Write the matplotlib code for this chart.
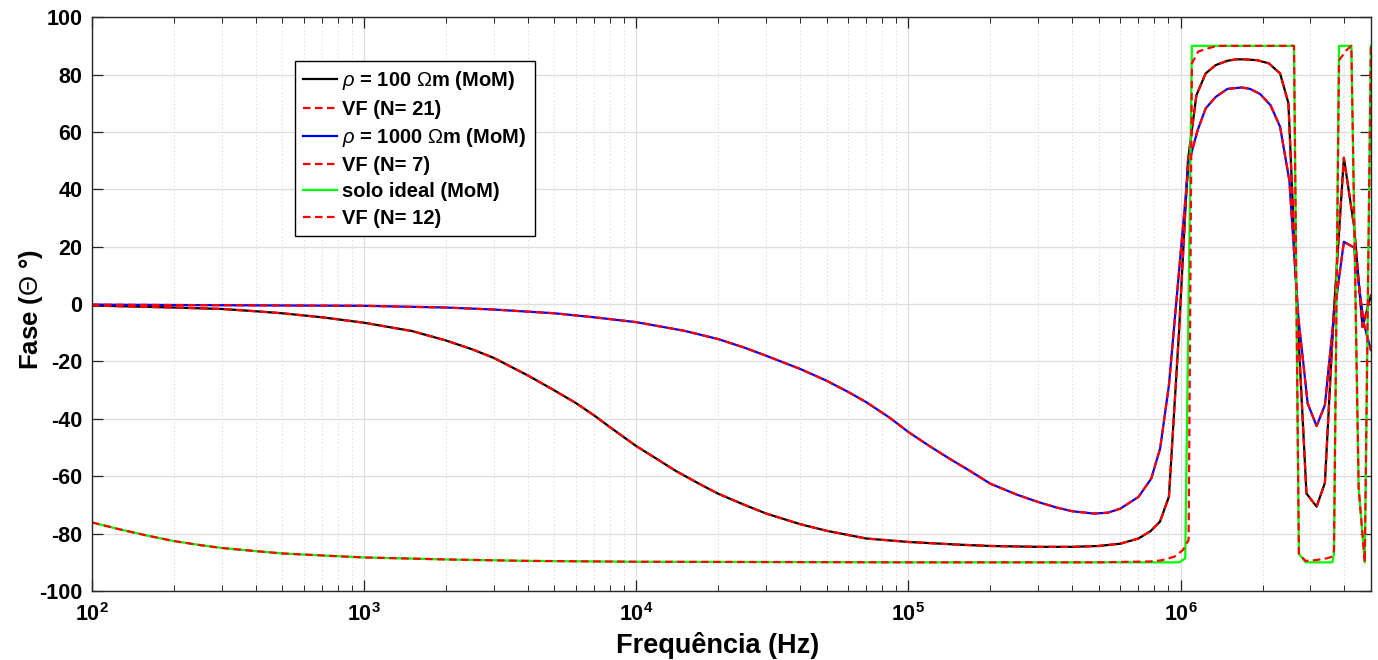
import math
import matplotlib
matplotlib.use("Agg")
import matplotlib.pyplot as plt
import matplotlib.ticker as mtick

# frequency (Hz) and phase (degrees)
freq_100 = [1.0e2, 2.0e2, 3.0e2, 4.0e2, 5.0e2, 7.0e2, 1.0e3, 1.5e3, 2.0e3, 2.5e3,
            3.0e3, 4.0e3, 5.0e3, 6.0e3, 7.0e3, 8.0e3, 1.0e4, 1.2e4, 1.4e4, 1.7e4,
            2.0e4, 2.5e4, 3.0e4, 4.0e4, 5.0e4, 7.0e4, 1.0e5, 1.5e5, 2.0e5, 3.0e5,
            4.0e5, 5.0e5, 6.0e5, 7.0e5, 7.76e5, 8.4e5, 9.06e5,
            9.86e5, 1.064e6, 1.143e6, 1.236e6, 1.346e6, 1.486e6, 1.60e6, 1.71e6,
            1.91e6, 2.11e6, 2.32e6, 2.49e6, 2.69e6, 2.90e6, 3.16e6, 3.39e6, 3.65e6,
            3.98e6, 4.34e6, 4.66e6, 5.0e6]
phase_100 = [-0.5, -1.2, -1.7, -2.5, -3.2, -4.6, -6.5, -9.4, -12.7, -15.8,
             -18.8, -24.9, -30.1, -34.5, -38.8, -42.9, -49.5, -54.2, -58.2, -62.6,
             -66.1, -70.0, -73.0, -76.7, -79.0, -81.7, -82.9, -83.8, -84.3, -84.6,
             -84.6, -84.3, -83.5, -81.7, -79.1, -75.8, -67.1,
             -10.0, 50.0, 72.8, 80.4, 83.3, 84.8, 85.3, 85.3, 85.0, 83.9, 80.4,
             70.0, -5.0, -66.0, -70.6, -62.3, -4.0, 51.0, 27.0, -8.0, 3.0]

freq_1000 = [1.0e2, 3.16e2, 1.0e3, 2.0e3, 3.0e3, 5.0e3, 7.0e3, 1.0e4, 1.5e4, 2.0e4,
             2.5e4, 3.0e4, 4.0e4, 5.0e4, 6.0e4, 7.0e4, 8.5e4, 1.0e5, 1.2e5, 1.4e5,
             1.7e5, 2.0e5, 2.5e5, 3.0e5, 3.5e5, 4.0e5, 4.8e5, 5.4e5, 6.0e5,
             7.0e5, 7.8e5, 8.41e5, 9.06e5, 1.07e6, 1.155e6, 1.236e6, 1.346e6, 1.486e6,
             1.68e6, 1.80e6, 1.96e6, 2.14e6, 2.32e6, 2.51e6, 2.71e6, 2.93e6, 3.16e6,
             3.39e6, 3.65e6, 3.98e6, 4.34e6, 4.71e6, 5.0e6]
phase_1000 = [-0.2, -0.4, -0.6, -1.2, -1.9, -3.2, -4.6, -6.3, -9.3, -12.2,
              -15.2, -18.0, -22.6, -26.7, -30.6, -34.2, -39.5, -44.6, -49.6, -53.6,
              -58.4, -62.6, -66.4, -69.0, -70.9, -72.2, -73.0, -72.7, -71.3,
              -67.2, -60.8, -50.3, -28.2, 49.0, 60.6, 68.2, 72.2, 75.0,
              75.5, 75.0, 73.2, 69.3, 61.8, 43.0, -5.0, -34.6, -42.5,
              -35.2, -5.0, 21.7, 19.7, -6.7, -16.0]

freq_ideal = [1.0e2, 1.25e2, 1.58e2, 2.0e2, 2.5e2, 3.0e2, 4.0e2, 5.0e2, 7.0e2, 1.0e3,
              1.5e3, 2.0e3, 4.0e3, 1.0e4, 1.0e5, 6.3e5, 9.9e5, 1.04e6, 1.10e6,
              2.61e6, 2.72e6, 2.88e6, 3.61e6, 3.66e6, 3.82e6, 4.24e6, 4.51e6,
              4.75e6, 5.0e6]
phase_ideal = [-76.1, -78.4, -80.6, -82.6, -84.0, -85.0, -86.1, -86.9, -87.6, -88.3,
               -88.7, -89.0, -89.5, -89.8, -90.0, -90.0, -90.0, -88.6, 90.0,
               90.0, -87.0, -90.0, -90.0, -87.0, 90.0, 90.0, -64.0,
               -90.0, 90.0]

freq_vf12 = [1.0e2, 1.25e2, 1.58e2, 2.0e2, 2.5e2, 3.0e2, 4.0e2, 5.0e2, 7.0e2, 1.0e3,
             1.5e3, 2.0e3, 4.0e3, 1.0e4, 1.0e5, 5.0e5, 7.76e5, 8.5e5, 9.5e5, 1.02e6,
             1.07e6, 1.10e6, 1.16e6, 1.26e6, 1.36e6, 2.61e6, 2.72e6, 2.88e6, 3.15e6,
             3.45e6, 3.61e6, 3.66e6, 3.82e6, 4.07e6, 4.24e6, 4.51e6, 4.75e6, 5.0e6]
phase_vf12 = [-76.1, -78.4, -80.6, -82.6, -84.0, -85.0, -86.1, -86.9, -87.6, -88.3,
              -88.7, -89.0, -89.5, -89.8, -90.0, -90.0, -89.7, -89.3, -88.0, -85.7,
              -82.2, 83.9, 88.0, 89.1, 90.0, 90.0, -87.0, -89.5, -89.2,
              -88.6, -88.0, -86.0, 85.0, 88.5, 90.0, -64.0, -90.0, 90.0]

# vector fitting curves for the two soils lie on top of the MoM results
freq_vf21, phase_vf21 = freq_100, phase_100
freq_vf7, phase_vf7 = freq_1000, phase_1000

labels = [r'$\rho$ = 100 $\Omega$m (MoM)', 'VF (N= 21)',
          r'$\rho$ = 1000 $\Omega$m (MoM)', 'VF (N= 7)',
          'solo ideal (MoM)', 'VF (N= 12)']
yticks = list(range(-100, 101, 20))

plt.rcParams['font.family'] = ['Liberation Sans', 'DejaVu Sans']
plt.rcParams['font.weight'] = 'bold'
plt.rcParams['axes.unicode_minus'] = False
plt.rcParams['mathtext.fontset'] = 'custom'
plt.rcParams['mathtext.rm'] = 'Liberation Sans:weight=normal'
plt.rcParams['mathtext.it'] = 'Liberation Sans:style=italic:weight=normal'
plt.rcParams['mathtext.bf'] = 'Liberation Sans:weight=bold'

axc = '#262626'
fig = plt.figure(figsize=(13.78, 6.6), dpi=100)
ax = fig.add_axes([0.0668, 0.1045, 0.928, 0.8695])

lw = 1.6
dash = (0, (3.4, 2.0))
ax.plot(freq_100, phase_100, color='black', lw=lw, label=labels[0])
ax.plot(freq_vf21, phase_vf21, color='red', lw=lw, ls=dash, label=labels[1])
ax.plot(freq_1000, phase_1000, color='blue', lw=lw, label=labels[2])
ax.plot(freq_vf7, phase_vf7, color='red', lw=lw, ls=dash, label=labels[3])
ax.plot(freq_ideal, phase_ideal, color='#00ff00', lw=lw, label=labels[4])
ax.plot(freq_vf12, phase_vf12, color='red', lw=lw, ls=dash, label=labels[5])

ax.set_xscale('log')
ax.set_xlim(1e2, 5e6)
ax.set_ylim(-100, 100)
ax.set_yticks(yticks)
ax.xaxis.set_major_locator(mtick.LogLocator(base=10, numticks=10))
ax.xaxis.set_minor_locator(mtick.LogLocator(base=10, subs=range(2, 10), numticks=20))
ax.xaxis.set_major_formatter(mtick.FuncFormatter(
    lambda v, p: r'$\mathbf{10^{%d}}$' % round(math.log10(v))))
ax.xaxis.set_minor_formatter(mtick.NullFormatter())

ax.grid(True, which='major', color='#dedede', lw=0.9, ls='-')
ax.grid(True, which='minor', axis='x', color='#dcdcdc', lw=0.7, ls=(0, (1.5, 2.5)))
ax.set_axisbelow(True)

for s in ax.spines.values():
    s.set_color(axc)
    s.set_linewidth(1.0)
ax.tick_params(which='both', direction='in', top=True, right=True,
               colors=axc, labelcolor='black')
ax.tick_params(which='major', length=8, width=0.9, labelsize=15.5, pad=7)
ax.tick_params(which='minor', length=4.5, width=0.7)
ax.tick_params(axis='x', which='major', pad=9)
for t in ax.get_yticklabels():
    t.set_fontweight('bold')

ax.set_xlabel('Frequência (Hz)', fontsize=19.5, fontweight='bold')
ax.set_ylabel(r'Fase ($\Theta$ °)', fontsize=18.5, fontweight='bold')
ax.xaxis.set_label_coords(0.489, -0.071)
ax.yaxis.set_label_coords(-0.037, 0.49)

leg = ax.legend(loc='upper left', bbox_to_anchor=(0.1587, 0.923), borderaxespad=0,
                fancybox=False, framealpha=1, edgecolor='black',
                handlelength=1.7, handletextpad=0.25, labelspacing=0.36,
                borderpad=0.4, prop={'weight': 'bold', 'size': 14.5})
leg.get_frame().set_linewidth(1.0)

fig.savefig('out.png', dpi=100)
